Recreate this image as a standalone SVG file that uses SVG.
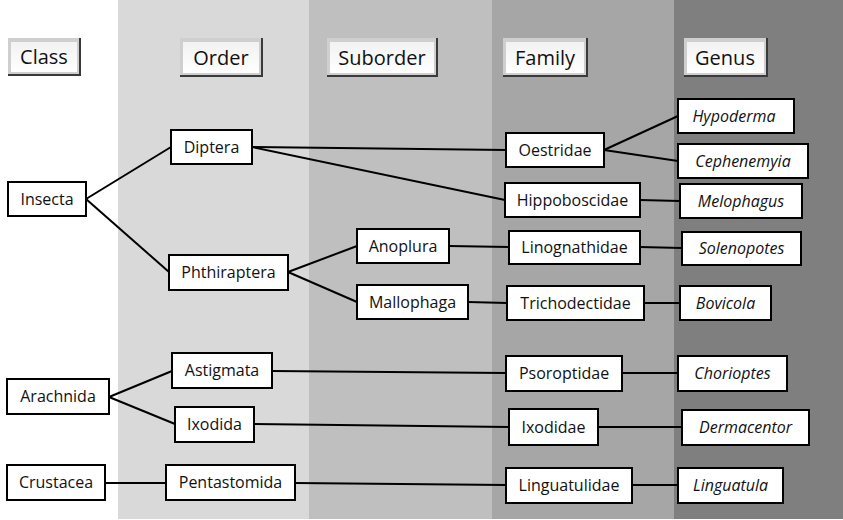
<svg xmlns="http://www.w3.org/2000/svg" width="843" height="520" viewBox="0 0 843 520">
<style>
.n rect{fill:#fff;stroke:#000;stroke-width:2}
.n text{font-family:"Open Sans","Noto Sans",sans-serif;font-size:16px;fill:#111;text-anchor:middle}
.g text{font-style:italic}
.h text{font-family:"Open Sans","Noto Sans",sans-serif;font-size:20px;fill:#111;text-anchor:middle}
#edges line{stroke:#000;stroke-width:2}
</style>
<defs>
<linearGradient id="bev" x1="0" y1="0" x2="0" y2="1">
<stop offset="0" stop-color="#f2f2f2"/><stop offset="1" stop-color="#ffffff"/>
</linearGradient>
</defs>
<rect x="0" y="0" width="843" height="520" fill="#fff"/>
<rect x="118" y="0" width="191" height="519" fill="#d9d9d9"/>
<rect x="309" y="0" width="183" height="519" fill="#bfbfbf"/>
<rect x="492" y="0" width="182" height="519" fill="#a6a6a6"/>
<rect x="674" y="0" width="169" height="519" fill="#7f7f7f"/>

<g id="headers">
<g id="h-class" class="h"><rect x="8" y="38" width="72" height="37" fill="#cfcfcf"/><rect x="11" y="42" width="66" height="30" fill="url(#bev)"/><path d="M80 38V75H8" fill="none" stroke="#3a3a3a" stroke-width="2"/><text x="44" y="64">Class</text></g>
<g id="h-order" class="h"><rect x="180" y="38" width="82" height="38" fill="#cfcfcf"/><rect x="183" y="42" width="76" height="31" fill="url(#bev)"/><path d="M262 38V76H180" fill="none" stroke="#3a3a3a" stroke-width="2"/><text x="221" y="65">Order</text></g>
<g id="h-suborder" class="h"><rect x="327" y="38" width="110" height="38" fill="#cfcfcf"/><rect x="330" y="42" width="104" height="31" fill="url(#bev)"/><path d="M437 38V76H327" fill="none" stroke="#3a3a3a" stroke-width="2"/><text x="382" y="65">Suborder</text></g>
<g id="h-family" class="h"><rect x="503" y="38" width="84" height="38" fill="#cfcfcf"/><rect x="506" y="42" width="78" height="31" fill="url(#bev)"/><path d="M587 38V76H503" fill="none" stroke="#3a3a3a" stroke-width="2"/><text x="545" y="65">Family</text></g>
<g id="h-genus" class="h"><rect x="684" y="38" width="83" height="38" fill="#cfcfcf"/><rect x="687" y="42" width="77" height="31" fill="url(#bev)"/><path d="M767 38V76H684" fill="none" stroke="#3a3a3a" stroke-width="2"/><text x="725" y="65">Genus</text></g>
</g>

<g id="edges">
<line x1="86" y1="199" x2="171" y2="147"/>
<line x1="86" y1="199" x2="169" y2="272"/>
<line x1="252" y1="147" x2="506" y2="150"/>
<line x1="252" y1="147" x2="505" y2="200"/>
<line x1="288" y1="272" x2="357" y2="246"/>
<line x1="288" y1="272" x2="357" y2="302"/>
<line x1="449" y1="246" x2="509" y2="247"/>
<line x1="468" y1="302" x2="507" y2="303"/>
<line x1="604" y1="150" x2="678" y2="116"/>
<line x1="604" y1="150" x2="678" y2="161"/>
<line x1="640" y1="200" x2="680" y2="201"/>
<line x1="640" y1="247" x2="682" y2="248"/>
<line x1="644" y1="303" x2="680" y2="303"/>
<line x1="109" y1="397" x2="172" y2="371"/>
<line x1="109" y1="397" x2="175" y2="424"/>
<line x1="272" y1="371" x2="506" y2="373"/>
<line x1="254" y1="424" x2="509" y2="427"/>
<line x1="105" y1="483" x2="166" y2="483"/>
<line x1="295" y1="483" x2="506" y2="485"/>
<line x1="622" y1="373" x2="678" y2="373"/>
<line x1="598" y1="427" x2="682" y2="427"/>
<line x1="632" y1="485" x2="678" y2="485"/>
</g>

<g id="insecta" class="n"><rect x="8" y="182" width="78" height="34"/><text x="47" y="205">Insecta</text></g>
<g id="arachnida" class="n"><rect x="7" y="379" width="102" height="35"/><text x="58" y="402">Arachnida</text></g>
<g id="crustacea" class="n"><rect x="7" y="465" width="98" height="35"/><text x="56" y="488">Crustacea</text></g>

<g id="diptera" class="n"><rect x="171" y="130" width="81" height="34"/><text x="211.5" y="153">Diptera</text></g>
<g id="phthiraptera" class="n"><rect x="169" y="255" width="119" height="35"/><text x="228.5" y="278">Phthiraptera</text></g>
<g id="astigmata" class="n"><rect x="172" y="353" width="100" height="35"/><text x="222" y="376">Astigmata</text></g>
<g id="ixodida" class="n"><rect x="175" y="407" width="79" height="35"/><text x="214.5" y="430">Ixodida</text></g>
<g id="pentastomida" class="n"><rect x="166" y="465" width="129" height="35"/><text x="230.5" y="488">Pentastomida</text></g>

<g id="anoplura" class="n"><rect x="357" y="229" width="92" height="34"/><text x="403" y="252">Anoplura</text></g>
<g id="mallophaga" class="n"><rect x="357" y="285" width="111" height="34"/><text x="412.5" y="308">Mallophaga</text></g>

<g id="oestridae" class="n"><rect x="506" y="133" width="98" height="34"/><text x="555" y="156">Oestridae</text></g>
<g id="hippoboscidae" class="n"><rect x="505" y="183" width="135" height="34"/><text x="572.5" y="206">Hippoboscidae</text></g>
<g id="linognathidae" class="n"><rect x="509" y="231" width="131" height="33"/><text x="574.5" y="253">Linognathidae</text></g>
<g id="trichodectidae" class="n"><rect x="507" y="286" width="137" height="34"/><text x="575.5" y="309">Trichodectidae</text></g>
<g id="psoroptidae" class="n"><rect x="506" y="356" width="116" height="35"/><text x="564" y="379">Psoroptidae</text></g>
<g id="ixodidae" class="n"><rect x="509" y="409" width="89" height="36"/><text x="553.5" y="433">Ixodidae</text></g>
<g id="linguatulidae" class="n"><rect x="506" y="468" width="126" height="35"/><text x="569" y="491">Linguatulidae</text></g>

<g id="hypoderma" class="n g"><rect x="678" y="99" width="116" height="34"/><text x="734" y="122">Hypoderma</text></g>
<g id="cephenemyia" class="n g"><rect x="678" y="144" width="130" height="34"/><text x="743" y="167">Cephenemyia</text></g>
<g id="melophagus" class="n g"><rect x="680" y="184" width="122" height="34"/><text x="741" y="207">Melophagus</text></g>
<g id="solenopotes" class="n g"><rect x="682" y="232" width="119" height="33"/><text x="741.5" y="254">Solenopotes</text></g>
<g id="bovicola" class="n g"><rect x="680" y="286" width="91" height="34"/><text x="725.5" y="309">Bovicola</text></g>
<g id="chorioptes" class="n g"><rect x="678" y="356" width="109" height="35"/><text x="732.5" y="379">Chorioptes</text></g>
<g id="dermacentor" class="n g"><rect x="682" y="410" width="127" height="35"/><text x="745.5" y="433">Dermacentor</text></g>
<g id="linguatula" class="n g"><rect x="678" y="468" width="105" height="35"/><text x="730.5" y="491">Linguatula</text></g>
</svg>
